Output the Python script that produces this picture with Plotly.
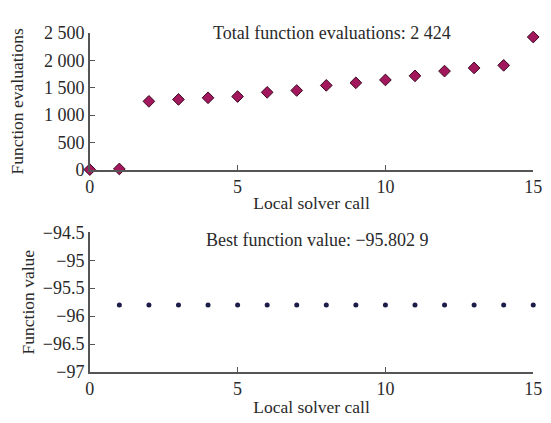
import plotly.graph_objects as go

calls_top = list(range(0, 16))
evals = [8, 20, 1252, 1287, 1317, 1340, 1416, 1450, 1543, 1590, 1642, 1717, 1803, 1861, 1908, 2424]
calls_bot = list(range(1, 16))
best_vals = [-95.8029] * 15

x_ticks = [0, 5, 10, 15]
y1_ticks = [0, 500, 1000, 1500, 2000, 2500]
y1_text = ["0", "500", "1 000", "1 500", "2 000", "2 500"]
y2_ticks = [-97, -96.5, -96, -95.5, -95, -94.5]
y2_text = ["\u221297", "\u221296.5", "\u221296", "\u221295.5", "\u221295", "\u221294.5"]

W, H = 551, 423
font = dict(family="Liberation Serif", size=18, color="#2a2a2a")
tfont = dict(family="Liberation Serif", size=17.5, color="#2a2a2a")

fig = go.Figure()
fig.add_trace(go.Scatter(x=calls_top, y=evals, mode="markers", xaxis="x", yaxis="y",
                         marker=dict(symbol="diamond", size=9, color="#a3185c",
                                     line=dict(color="#3a0a20", width=1)),
                         cliponaxis=False, showlegend=False))
fig.add_trace(go.Scatter(x=calls_bot, y=best_vals, mode="markers", xaxis="x2", yaxis="y2",
                         marker=dict(symbol="circle", size=5, color="#1c1c48"),
                         cliponaxis=False, showlegend=False))

xd = [87 / W, 542 / W]
ax_common = dict(showline=True, linecolor="#555", linewidth=1.5, ticks="inside", ticklen=5,
                 tickcolor="#555", showgrid=False, zeroline=False, tickfont=font)
fig.update_layout(
    width=W, height=H, margin=dict(l=0, r=0, t=0, b=0),
    paper_bgcolor="white", plot_bgcolor="white", font=font,
    xaxis=dict(domain=xd, range=[0, 15], anchor="y", tickvals=x_ticks,
               title=dict(text="Local solver call", font=tfont, standoff=0), **ax_common),
    yaxis=dict(domain=[1 - 168 / H, 1 - 24 / H], range=[0, 2500], anchor="x",
               tickvals=y1_ticks, ticktext=y1_text,
               title=dict(text="Function evaluations", font=tfont, standoff=16), **ax_common),
    xaxis2=dict(domain=xd, range=[0, 15], anchor="y2", tickvals=x_ticks,
                title=dict(text="Local solver call", font=tfont, standoff=2), **ax_common),
    yaxis2=dict(domain=[1 - 380 / H, 1 - 233.3 / H], range=[-97, -94.5], anchor="x2",
                tickvals=y2_ticks, ticktext=y2_text,
                title=dict(text="Function value", font=tfont, standoff=4), **ax_common),
    annotations=[
        dict(text="Total function evaluations: 2 424", x=336 / W, y=1 - 24 / H, xref="paper",
             yref="paper", showarrow=False, font=font, xanchor="center", yanchor="middle"),
        dict(text="Best function value: \u221295.802 9", x=321 / W, y=1 - 241 / H, xref="paper",
             yref="paper", showarrow=False, font=font, xanchor="center", yanchor="middle"),
    ],
)
fig.write_html("out.html")
